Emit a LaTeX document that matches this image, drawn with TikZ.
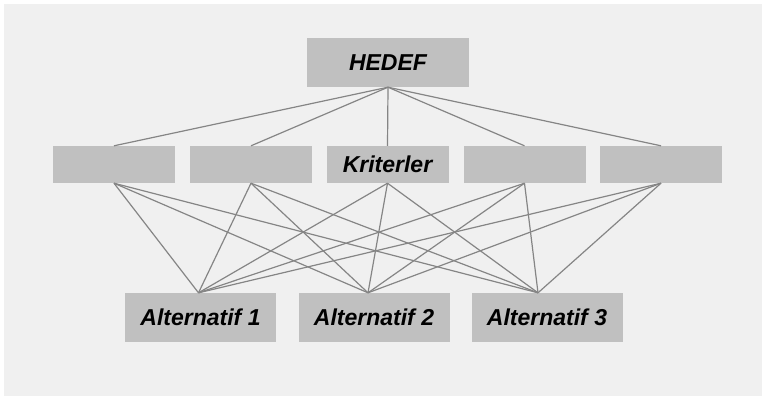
\documentclass[tikz,border=0pt]{standalone}
\usepackage{fontspec}
\setmainfont{Liberation Sans}
\definecolor{kutu}{HTML}{C0C0C0}
\definecolor{zemin}{HTML}{F0F0F0}
\definecolor{cizgi}{HTML}{858585}
\tikzset{
	kutu/.style={fill=kutu, inner sep=0pt, font=\fontsize{23}{26}\selectfont\bfseries\itshape},
	kriter/.style={kutu, minimum width=122pt, minimum height=37pt},
	secenek/.style={kutu, minimum width=151pt, minimum height=49pt},
	bag/.style={draw=cizgi, line width=1.2pt}
}
\begin{document}
\begin{tikzpicture}[x=1pt, y=-1pt]
		\useasboundingbox (0,0) rectangle (762,400);
		\fill[zemin] (4,4) rectangle (762,396);
		% hedef
		\node[kutu, minimum width=162pt, minimum height=49pt] (hedef) at (388,62.5) {HEDEF};
		% kriterler
		\node[kriter] (k1) at (114,164.5) {};
		\node[kriter] (k2) at (251,164.5) {};
		\node[kriter] (k3) at (387.5,164.5) {Kriterler};
		\node[kriter] (k4) at (524.5,164.5) {};
		\node[kriter] (k5) at (661,164.5) {};
		% alternatifler
		\node[secenek] (a1) at (200.5,317.5) {Alternatif 1};
		\node[secenek] (a2) at (374,317.5) {Alternatif 2};
		\node[secenek] (a3) at (547,317.5) {Alternatif 3};
		% hedef -> kriterler
		\foreach \k in {k1,k2,k3,k4,k5}{
			\draw[bag] (hedef.south) -- (\k.north);
		}
		% kriterler -> alternatifler
		\foreach \k in {k1,k2,k3,k4,k5}{
			\foreach \a/\dx in {a1/-2,a2/-6,a3/-9}{
				\draw[bag] (\k.south) -- ([xshift=\dx pt]\a.north);
			}
		}
	\end{tikzpicture}
\end{document}
